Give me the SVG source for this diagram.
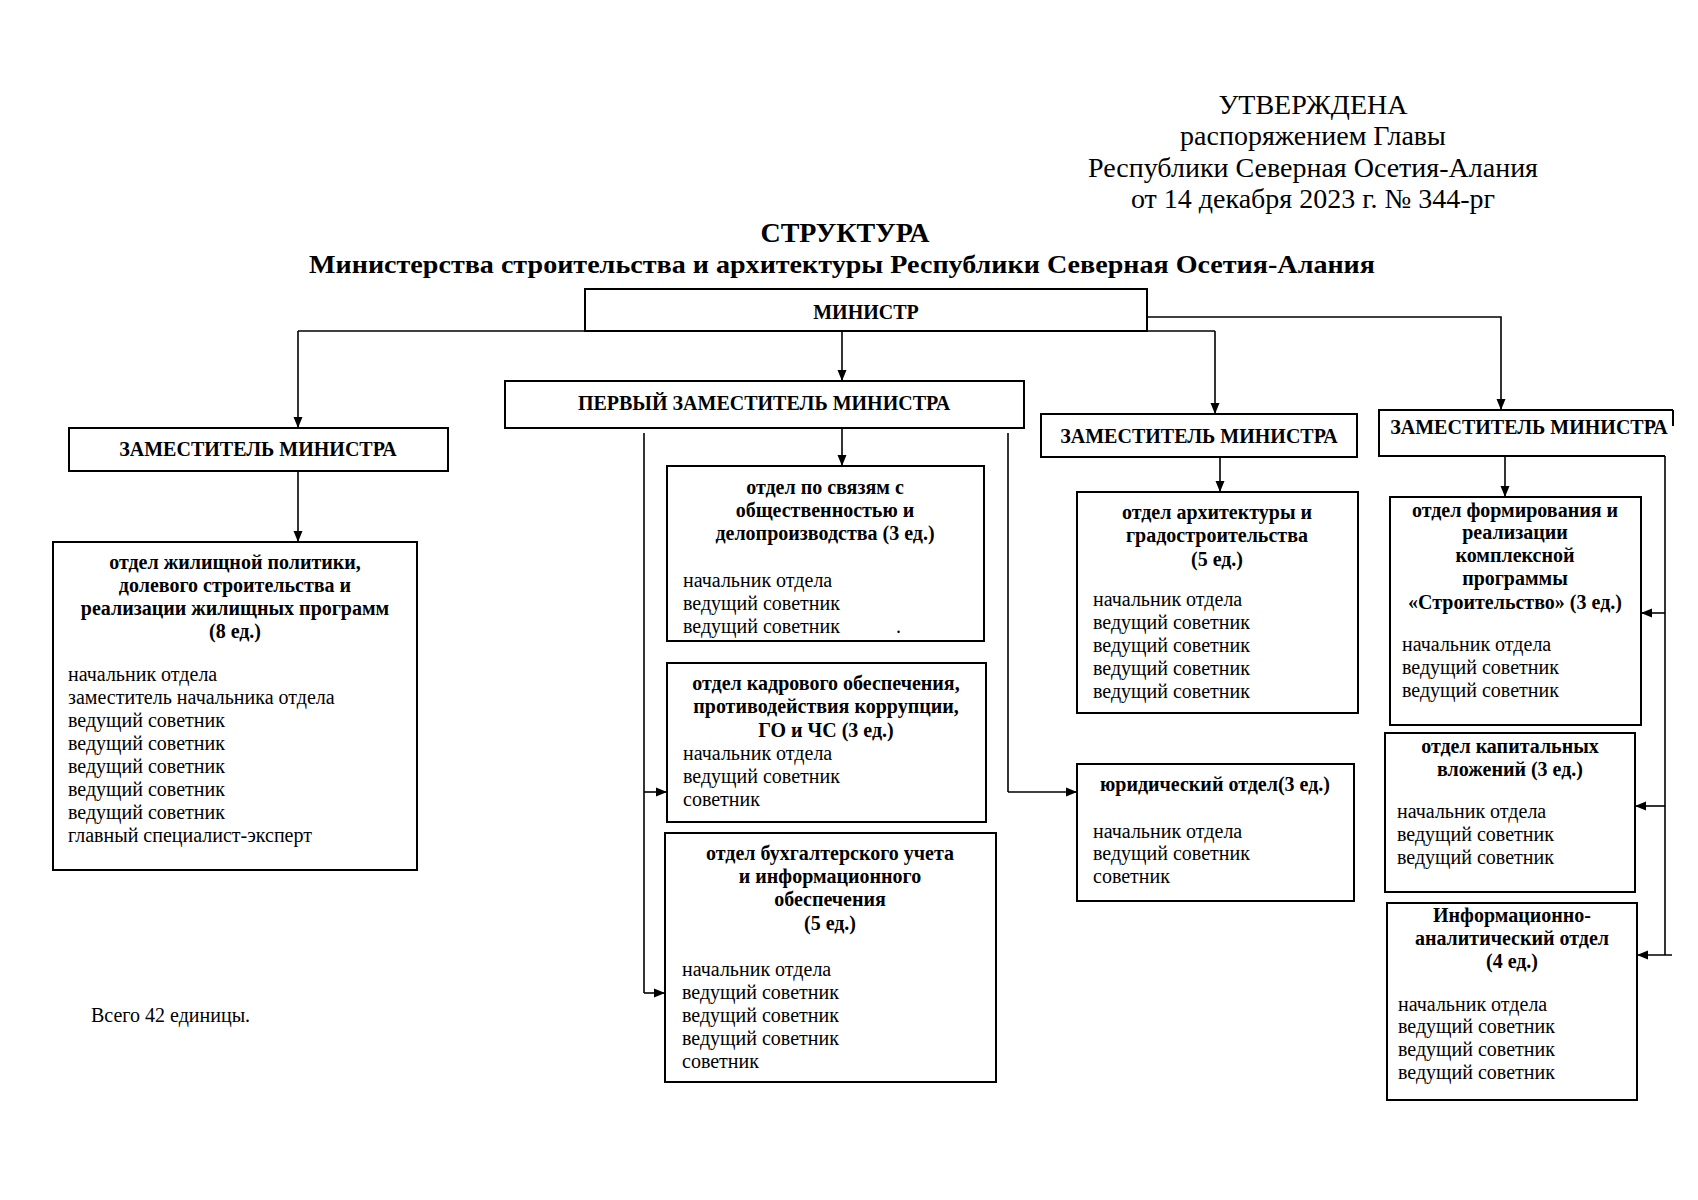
<svg xmlns="http://www.w3.org/2000/svg" width="1698" height="1200" viewBox="0 0 1698 1200">
<defs>
<marker id="ah" markerWidth="11" markerHeight="10" refX="11" refY="5" orient="auto" markerUnits="userSpaceOnUse"><path d="M0,0.5 L11,5 L0,9.5 z" fill="#000"/></marker>
<style>
.box{fill:#fff;stroke:#000;stroke-width:2}
.ln{fill:none;stroke:#000;stroke-width:1.6}
.arr{fill:none;stroke:#000;stroke-width:1.6;marker-end:url(#ah)}
text{font-family:"Liberation Serif","Times New Roman",serif;fill:#000}
.hd{font-size:20px;font-weight:bold;text-anchor:middle}
.tt{font-size:20px;font-weight:bold;text-anchor:middle}
.bd{font-size:20px}
.hdr{font-size:28px;text-anchor:middle}
</style>
</defs>
<rect width="1698" height="1200" fill="#fff"/>

<g id="header">
<text class="hdr" x="1313" y="114">УТВЕРЖДЕНА</text>
<text class="hdr" x="1313" y="145">распоряжением Главы</text>
<text class="hdr" x="1313" y="177">Республики Северная Осетия-Алания</text>
<text class="hdr" x="1313" y="208">от 14 декабря 2023 г. № 344-рг</text>
<text x="845" y="242" style="font-size:28px;font-weight:bold;text-anchor:middle">СТРУКТУРА</text>
<text x="842" y="273" style="font-size:26px;font-weight:bold;text-anchor:middle" textLength="1066" lengthAdjust="spacingAndGlyphs">Министерства строительства и архитектуры Республики Северная Осетия-Алания</text>
</g>

<g id="connectors">
<polyline class="arr" points="298,331 298,428"/>
<line class="ln" x1="298" y1="331" x2="1215" y2="331"/>
<polyline class="arr" points="842,331 842,381"/>
<polyline class="arr" points="1215,331 1215,414"/>
<polyline class="arr" points="1147,317 1501,317 1501,410"/>
<polyline class="arr" points="298,471 298,542"/>
<polyline class="arr" points="842,428 842,466"/>
<polyline class="arr" points="1220,457 1220,492"/>
<polyline class="arr" points="1505,456 1505,497"/>
<polyline class="ln" points="644,433 644,993"/>
<polyline class="arr" points="644,792 667,792"/>
<polyline class="arr" points="644,993 665,993"/>
<polyline class="ln" points="1008,433 1008,792"/>
<polyline class="arr" points="1008,792 1077,792"/>
<polyline class="ln" points="1665,456 1665,955"/>
<polyline class="arr" points="1665,613 1641,613"/>
<polyline class="arr" points="1665,806 1635,806"/>
<polyline class="arr" points="1672,955 1637,955"/>
</g>

<g id="minister">
<rect class="box" x="585" y="289" width="562" height="42"/>
<text class="hd" x="866" y="319">МИНИСТР</text>
</g>

<g id="first-deputy">
<rect class="box" x="505" y="381" width="519" height="47"/>
<text class="hd" x="764" y="410">ПЕРВЫЙ ЗАМЕСТИТЕЛЬ МИНИСТРА</text>
</g>

<g id="deputy-left">
<rect class="box" x="69" y="428" width="379" height="43"/>
<text class="hd" x="258" y="456">ЗАМЕСТИТЕЛЬ МИНИСТРА</text>
</g>

<g id="deputy-mid">
<rect class="box" x="1041" y="414" width="316" height="43"/>
<text class="hd" x="1199" y="443">ЗАМЕСТИТЕЛЬ МИНИСТРА</text>
</g>

<g id="deputy-right">
<path d="M1673,410 H1379 V456 H1665" fill="#fff" stroke="#000" stroke-width="2"/>
<path d="M1673,410 V426" fill="none" stroke="#000" stroke-width="2"/>
<text class="hd" x="1529" y="434">ЗАМЕСТИТЕЛЬ МИНИСТРА</text>
</g>

<g id="dept-housing">
<rect class="box" x="53" y="542" width="364" height="328"/>
<text class="tt" x="235" y="569">отдел жилищной политики,</text>
<text class="tt" x="235" y="592">долевого строительства и</text>
<text class="tt" x="235" y="615">реализации жилищных программ</text>
<text class="tt" x="235" y="638">(8 ед.)</text>
<text class="bd" x="68" y="681">начальник отдела</text>
<text class="bd" x="68" y="704">заместитель начальника отдела</text>
<text class="bd" x="68" y="727">ведущий советник</text>
<text class="bd" x="68" y="750">ведущий советник</text>
<text class="bd" x="68" y="773">ведущий советник</text>
<text class="bd" x="68" y="796">ведущий советник</text>
<text class="bd" x="68" y="819">ведущий советник</text>
<text class="bd" x="68" y="842">главный специалист-эксперт</text>
</g>

<g id="dept-pr">
<rect class="box" x="667" y="466" width="317" height="175"/>
<text class="tt" x="825" y="494">отдел по связям с</text>
<text class="tt" x="825" y="517">общественностью и</text>
<text class="tt" x="825" y="540">делопроизводства (3 ед.)</text>
<text class="bd" x="683" y="587">начальник отдела</text>
<text class="bd" x="683" y="610">ведущий советник</text>
<text class="bd" x="683" y="633">ведущий советник</text>
<text class="bd" x="896" y="633">.</text>
</g>

<g id="dept-hr">
<rect class="box" x="667" y="663" width="319" height="159"/>
<text class="tt" x="826" y="690">отдел кадрового обеспечения,</text>
<text class="tt" x="826" y="713">противодействия коррупции,</text>
<text class="tt" x="826" y="737">ГО и ЧС (3 ед.)</text>
<text class="bd" x="683" y="760">начальник отдела</text>
<text class="bd" x="683" y="783">ведущий советник</text>
<text class="bd" x="683" y="806">советник</text>
</g>

<g id="dept-accounting">
<rect class="box" x="665" y="833" width="331" height="249"/>
<text class="tt" x="830" y="860">отдел бухгалтерского учета</text>
<text class="tt" x="830" y="883">и информационного</text>
<text class="tt" x="830" y="906">обеспечения</text>
<text class="tt" x="830" y="930">(5 ед.)</text>
<text class="bd" x="682" y="976">начальник отдела</text>
<text class="bd" x="682" y="999">ведущий советник</text>
<text class="bd" x="682" y="1022">ведущий советник</text>
<text class="bd" x="682" y="1045">ведущий советник</text>
<text class="bd" x="682" y="1068">советник</text>
</g>

<g id="dept-architecture">
<rect class="box" x="1077" y="492" width="281" height="221"/>
<text class="tt" x="1217" y="519">отдел архитектуры и</text>
<text class="tt" x="1217" y="542">градостроительства</text>
<text class="tt" x="1217" y="566">(5 ед.)</text>
<text class="bd" x="1093" y="606">начальник отдела</text>
<text class="bd" x="1093" y="629">ведущий советник</text>
<text class="bd" x="1093" y="652">ведущий советник</text>
<text class="bd" x="1093" y="675">ведущий советник</text>
<text class="bd" x="1093" y="698">ведущий советник</text>
</g>

<g id="dept-legal">
<rect class="box" x="1077" y="764" width="277" height="137"/>
<text class="tt" x="1215" y="791">юридический отдел(3 ед.)</text>
<text class="bd" x="1093" y="838">начальник отдела</text>
<text class="bd" x="1093" y="860">ведущий советник</text>
<text class="bd" x="1093" y="883">советник</text>
</g>

<g id="dept-program">
<rect class="box" x="1390" y="497" width="251" height="228"/>
<text class="tt" x="1515" y="517">отдел формирования и</text>
<text class="tt" x="1515" y="539">реализации</text>
<text class="tt" x="1515" y="562">комплексной</text>
<text class="tt" x="1515" y="585">программы</text>
<text class="tt" x="1515" y="609">«Строительство» (3 ед.)</text>
<text class="bd" x="1402" y="651">начальник отдела</text>
<text class="bd" x="1402" y="674">ведущий советник</text>
<text class="bd" x="1402" y="697">ведущий советник</text>
</g>

<g id="dept-capital">
<rect class="box" x="1385" y="733" width="250" height="159"/>
<text class="tt" x="1510" y="753">отдел капитальных</text>
<text class="tt" x="1510" y="776">вложений (3 ед.)</text>
<text class="bd" x="1397" y="818">начальник отдела</text>
<text class="bd" x="1397" y="841">ведущий советник</text>
<text class="bd" x="1397" y="864">ведущий советник</text>
</g>

<g id="dept-info">
<rect class="box" x="1387" y="903" width="250" height="197"/>
<text class="tt" x="1512" y="922">Информационно-</text>
<text class="tt" x="1512" y="945">аналитический отдел</text>
<text class="tt" x="1512" y="968">(4 ед.)</text>
<text class="bd" x="1398" y="1011">начальник отдела</text>
<text class="bd" x="1398" y="1033">ведущий советник</text>
<text class="bd" x="1398" y="1056">ведущий советник</text>
<text class="bd" x="1398" y="1079">ведущий советник</text>
</g>

<g id="total">
<text x="91" y="1022" style="font-size:20px">Всего 42 единицы.</text>
</g>
</svg>
